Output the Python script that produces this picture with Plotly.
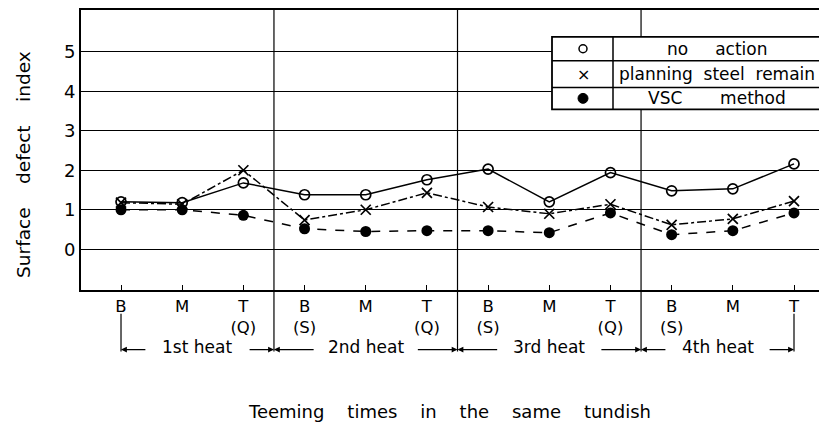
import plotly.graph_objects as go

# Teeming positions in the tundish and the secondary markers under them
positions = ["B", "M", "T", "B", "M", "T", "B", "M", "T", "B", "M", "T"]
sub_labels = ["", "", "(Q)", "(S)", "", "(Q)", "(S)", "", "(Q)", "(S)", "", ""]
heats = ["1st heat", "2nd heat", "3rd heat", "4th heat"]

no_action = [1.2, 1.18, 1.68, 1.38, 1.38, 1.76, 2.03, 1.2, 1.94, 1.48, 1.53, 2.16]
planning_steel = [1.18, 1.14, 2.0, 0.74, 1.0, 1.43, 1.07, 0.9, 1.14, 0.62, 0.77, 1.22]
vsc_method = [1.0, 1.0, 0.86, 0.52, 0.45, 0.47, 0.47, 0.42, 0.92, 0.37, 0.47, 0.92]

y_ticks = [0, 1, 2, 3, 4, 5]

# page body adds an 8px margin, so the figure is drawn 8px smaller
OFF = 8
W, H = 827, 423
PL, PT, PR, PB = 81, 8, 823, 290   # plot box in screen pixels
FONT = "DejaVu Sans"


def px(x):
    return (x - PL) / (PR - PL)


def py(y):
    return (PB - y) / (PB - PT)


def txt(x, y, text, size, **kw):
    return dict(x=px(x), y=py(y), xref="paper", yref="paper", text=text, showarrow=False,
                xanchor="center", yanchor="middle",
                font={"size": size, "family": FONT, "color": "black"}, **kw)


x = list(range(len(positions)))
ticktext = [p + ("<br>" + s if s else "") for p, s in zip(positions, sub_labels)]

fig = go.Figure()
fig.add_trace(go.Scatter(
    x=x, y=no_action, mode="lines+markers", name="no action",
    line={"color": "black", "width": 1.5},
    marker={"symbol": "circle-open", "size": 10, "color": "black", "line": {"width": 1.7}},
))
fig.add_trace(go.Scatter(
    x=x, y=planning_steel, mode="lines+markers", name="planning steel remain",
    line={"color": "black", "width": 1.5, "dash": "dashdot"},
    marker={"symbol": "x-thin", "size": 10, "color": "black", "line": {"width": 1.7, "color": "black"}},
))
fig.add_trace(go.Scatter(
    x=x, y=vsc_method, mode="lines+markers", name="VSC method",
    line={"color": "black", "width": 1.5, "dash": "dash"},
    marker={"symbol": "circle", "size": 11, "color": "black"},
))

shapes = []
annotations = []

# heat boundaries (vertical lines running below the axis)
n_per_heat = len(positions) // len(heats)
edges = [0] + [k * n_per_heat - 0.5 for k in range(1, len(heats))] + [len(positions) - 1]
for e in edges[1:-1]:
    shapes.append(dict(type="line", xref="x", yref="paper", x0=e, x1=e, y0=py(352), y1=1,
                       line={"color": "black", "width": 1.2}))
for e in (edges[0], edges[-1]):
    shapes.append(dict(type="line", xref="x", yref="paper", x0=e, x1=e, y0=py(314), y1=py(352),
                       line={"color": "black", "width": 1.2}))

unit = (PR - PL) / 12.13
arrow_y = py(350)
for i, name in enumerate(heats):
    lo, hi = edges[i], edges[i + 1]
    c = (lo + hi) / 2
    hw = (len(name) * 9.4 / 2 + 13) / unit
    annotations.append(dict(x=c, y=py(347), xref="x", yref="paper", text=name, showarrow=False,
                            xanchor="center", yanchor="middle",
                            font={"size": 17, "family": FONT, "color": "black"}))
    for end, start in ((lo, c - hw), (hi, c + hw)):
        annotations.append(dict(x=end, y=arrow_y, xref="x", yref="paper", text="",
                                ax=start, ay=0, axref="x", ayref="pixel", showarrow=True,
                                arrowhead=2, arrowsize=0.9, arrowwidth=1.3, arrowcolor="black",
                                standoff=0))

# legend table
lx0, lx1, lxm = 552, 823, 613
rows = [35, 59, 86, 108]
shapes.append(dict(type="rect", xref="paper", yref="paper", x0=px(lx0), x1=px(lx1),
                   y0=py(rows[-1]), y1=py(rows[0]), fillcolor="white",
                   line={"color": "black", "width": 1.8}))
shapes.append(dict(type="line", xref="paper", yref="paper", x0=px(lxm), x1=px(lxm),
                   y0=py(rows[-1]), y1=py(rows[0]), line={"color": "black", "width": 1.5}))
for r in rows[1:-1]:
    shapes.append(dict(type="line", xref="paper", yref="paper", x0=px(lx0), x1=px(lx1),
                       y0=py(r), y1=py(r), line={"color": "black", "width": 1.5}))
names = ["no     action", "planning  steel  remain", "VSC       method"]
sym_x = 583
for i, name in enumerate(names):
    yc = (rows[i] + rows[i + 1]) / 2
    annotations.append(txt((lxm + lx1) / 2 - 1, yc, name, 17))
    if i == 0:
        shapes.append(dict(type="circle", xref="paper", yref="paper",
                           x0=px(sym_x - 4), x1=px(sym_x + 4), y0=py(yc + 4), y1=py(yc - 4),
                           line={"color": "black", "width": 1.5}))
    elif i == 1:
        annotations.append(txt(sym_x, yc, "×", 16))
    else:
        shapes.append(dict(type="circle", xref="paper", yref="paper",
                           x0=px(sym_x - 5), x1=px(sym_x + 5), y0=py(yc + 5), y1=py(yc - 5),
                           fillcolor="black", line={"color": "black", "width": 1}))

# axis titles
annotations.append(txt(24, 164, "Surface    defect    index", 18.5, textangle=-90))
annotations.append(txt(449, 412, "Teeming    times    in    the    same    tundish", 18))

fig.update_layout(
    width=W - OFF, height=H - OFF,
    margin={"l": PL - OFF, "r": W - PR, "t": PT - OFF, "b": H - PB, "pad": 0},
    plot_bgcolor="white", paper_bgcolor="white",
    showlegend=False,
    shapes=shapes, annotations=annotations,
    font={"family": FONT, "color": "black"},
    xaxis={
        "range": [-0.654, 11.474], "tickvals": x, "ticktext": ticktext,
        "showgrid": False, "zeroline": False,
        "ticks": "inside", "ticklen": 5, "tickcolor": "black", "tickwidth": 1.2,
        "showline": True, "linecolor": "black", "linewidth": 2, "mirror": True,
        "tickfont": {"size": 16.5},
    },
    yaxis={
        "range": [-1.03, 6.055], "tickvals": y_ticks,
        "showgrid": True, "gridcolor": "black", "gridwidth": 1, "zeroline": False,
        "showline": True, "linecolor": "black", "linewidth": 2, "mirror": True,
        "tickfont": {"size": 18},
    },
)

fig.write_html("out.html")
